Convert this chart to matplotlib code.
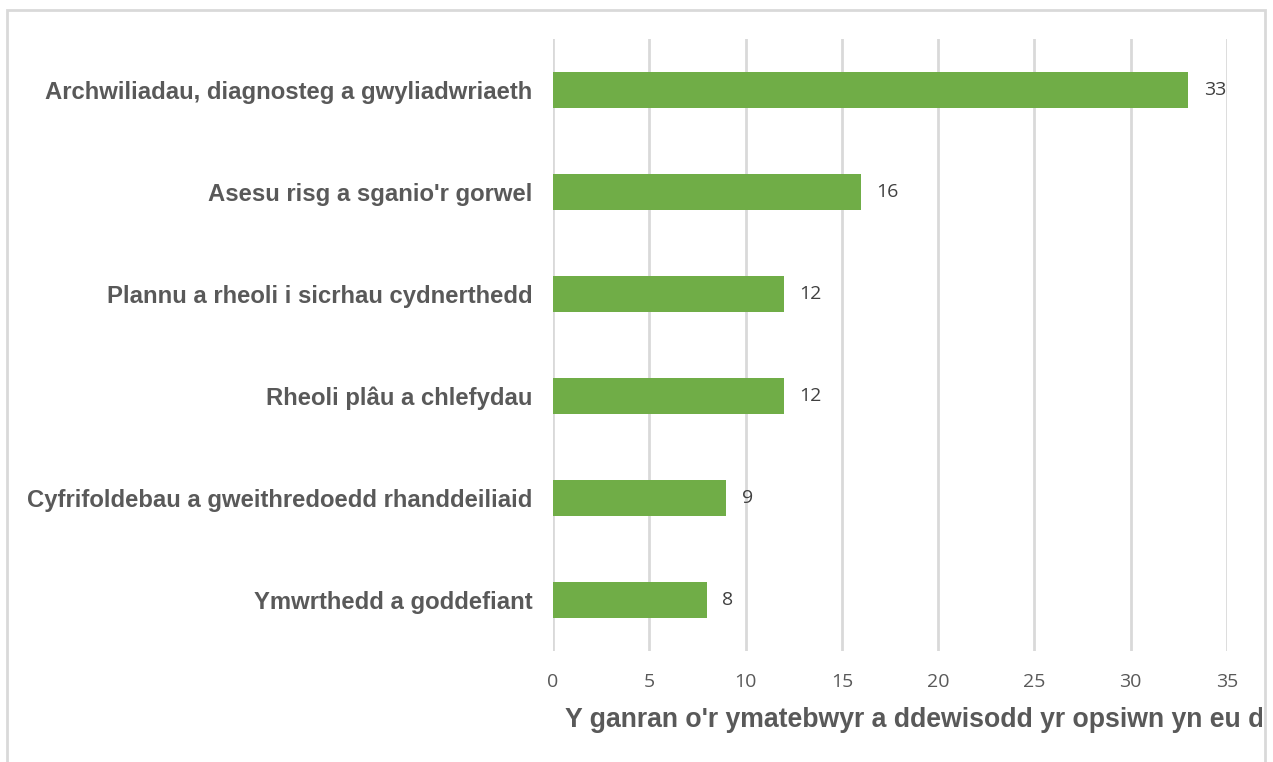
import matplotlib.pyplot as plt
from matplotlib.patches import Rectangle

categories = ["Archwiliadau, diagnosteg a gwyliadwriaeth",
              "Asesu risg a sganio'r gorwel",
              "Plannu a rheoli i sicrhau cydnerthedd",
              "Rheoli plâu a chlefydau",
              "Cyfrifoldebau a gweithredoedd rhanddeiliaid",
              "Ymwrthedd a goddefiant"]
values = [33, 16, 12, 12, 9, 8]
xticks = [0, 5, 10, 15, 20, 25, 30, 35]
xlabel = "Y ganran o'r ymatebwyr a ddewisodd yr opsiwn yn eu dewis"
xlabel_visible = "Y ganran o'r ymatebwyr a ddewisodd yr opsiwn yn eu d"

W, H = 1273, 762
fig = plt.figure(figsize=(W / 100, H / 100), dpi=100)
ax = fig.add_axes([553 / W, 1 - 651 / H, (1227 - 553) / W, (651 - 39) / H])

y = list(range(len(categories)))[::-1]
ax.barh(y, values, height=0.35, color='#70AD47', zorder=3)
for yi, v in zip(y, values):
    ax.text(v + 0.8, yi, str(v), va='center', ha='left', fontsize=14,
            color='#404040', family='Open Sans')

ax.set_xlim(0, 35)
ax.set_ylim(-0.5, len(categories) - 0.5)
ax.set_xticks(xticks)
ax.set_xticklabels([str(t) for t in xticks], family='Open Sans',
                   fontsize=14, color='#595959')
ax.set_yticks(y)
ax.set_yticklabels(categories, family='Liberation Sans', fontweight='bold',
                   fontsize=17.2, color='#595959')
ax.tick_params(axis='both', length=0)
ax.tick_params(axis='x', pad=16)
ax.tick_params(axis='y', pad=15)
ax.grid(axis='x', color='#D9D9D9', linewidth=2, zorder=0)
for s in ax.spines.values():
    s.set_visible(False)

# outer chart border (open at the bottom, as in the source image)
border = Rectangle((7 / W, -0.05), (1265 - 7) / W, 1.05 - 10 / H,
                   transform=fig.transFigure, fill=False,
                   edgecolor='#D9D9D9', linewidth=2)
fig.patches.append(border)

# axis title runs past the chart border and is cut off there
r = fig.canvas.get_renderer()
probe = fig.text(0, 0, xlabel_visible, family='Liberation Sans',
                 fontweight='bold', fontsize=18)
w = probe.get_window_extent(r).width
probe.remove()
fs = 18 * 702 / w
lab = fig.text(565 / W, 1 - 720 / H, xlabel, ha='left', va='center',
               family='Liberation Sans', fontweight='bold',
               fontsize=fs, color='#595959')
clip = Rectangle((0, 0), 1262 / W, 1, transform=fig.transFigure,
                 visible=False)
fig.patches.append(clip)
lab.set_clip_path(clip)

fig.savefig('out.png', dpi=100, facecolor='white')
